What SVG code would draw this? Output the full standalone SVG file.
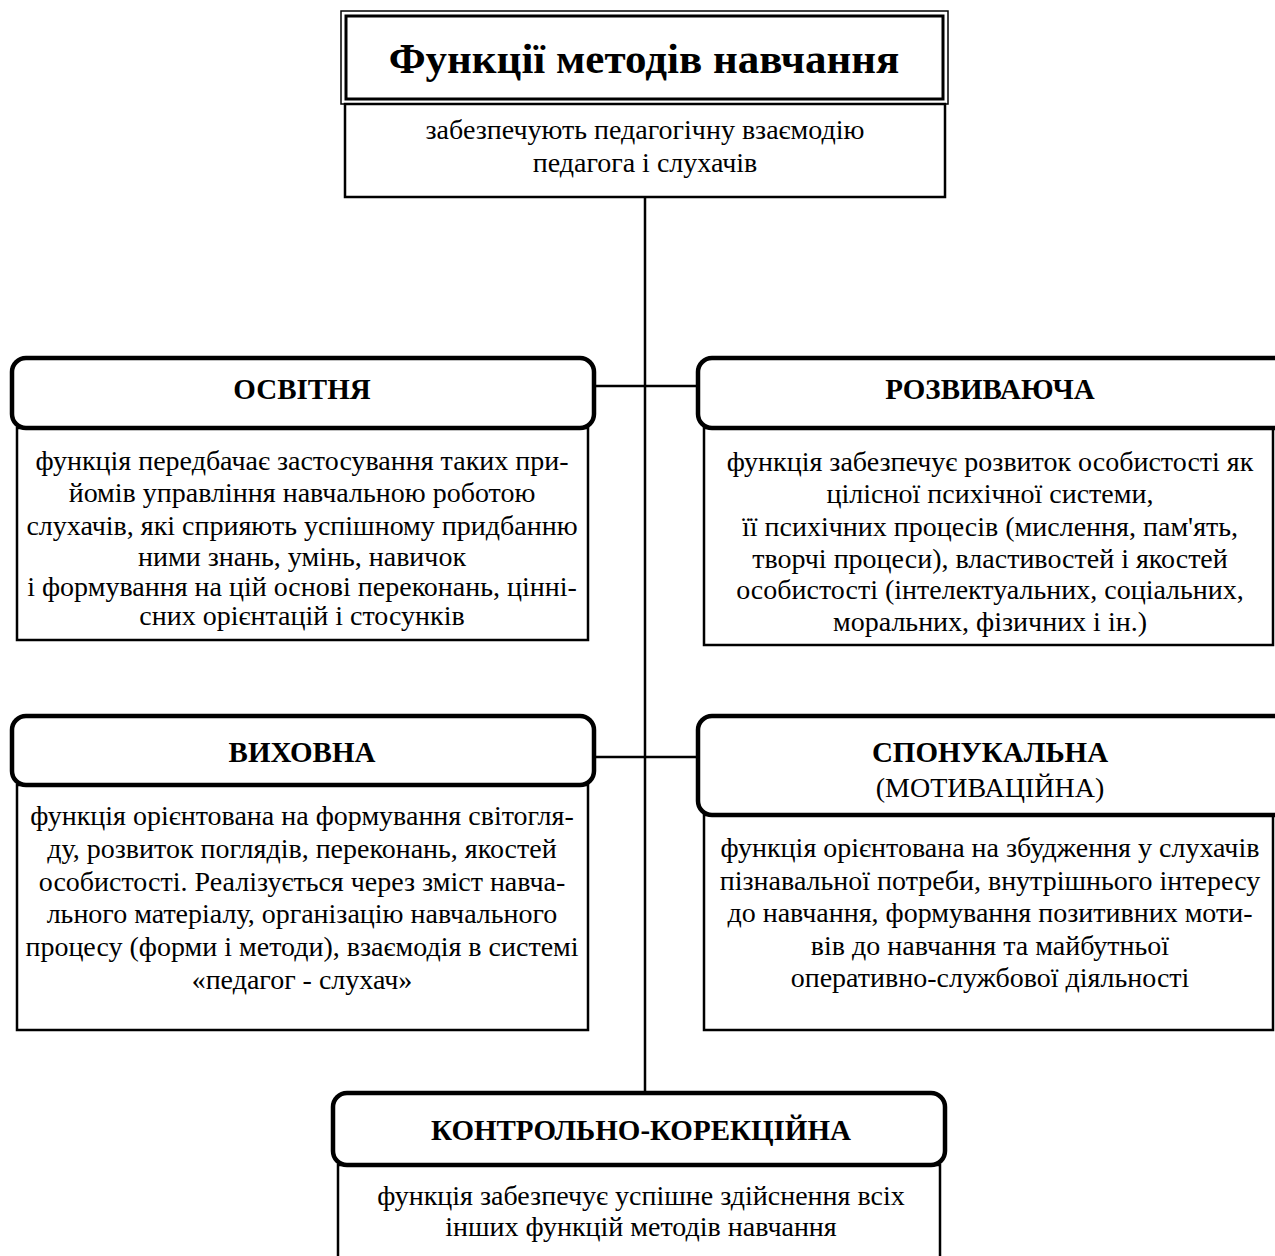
<svg xmlns="http://www.w3.org/2000/svg" width="1275" height="1256" viewBox="0 0 1275 1256">
<style>
.hdr{fill:#fff;stroke:#000;stroke-width:4.5}
.body{fill:#fff;stroke:#000;stroke-width:2.5}
.t{font-family:"Liberation Serif","Times New Roman",serif;font-size:28px;fill:#000;text-anchor:middle}
.h{font-family:"Liberation Serif","Times New Roman",serif;font-size:29px;font-weight:bold;fill:#000;text-anchor:middle}
.conn{stroke:#000;stroke-width:2.5;fill:none}
</style>
<rect width="1275" height="1256" fill="#fff"/>
<g id="connectors">
<line class="conn" x1="645" y1="197" x2="645" y2="1093"/>
<line class="conn" x1="594" y1="386" x2="698" y2="386"/>
<line class="conn" x1="594" y1="757" x2="698" y2="757"/>
</g>
<g id="title">
<rect x="341" y="11" width="607" height="93" fill="#fff" stroke="#000" stroke-width="1.5"/>
<rect x="346" y="16" width="597" height="83" fill="none" stroke="#000" stroke-width="3"/>
<text x="644" y="73" font-family="Liberation Serif, Times New Roman, serif" font-size="43" font-weight="bold" text-anchor="middle">Функції методів навчання</text>
<rect class="body" x="345" y="104" width="600" height="93"/>
<text class="t" x="645" y="139">забезпечують педагогічну взаємодію</text>
<text class="t" x="645" y="172">педагога і слухачів</text>
</g>
<g id="osvitnia">
<rect class="body" x="17" y="428" width="571" height="212"/>
<rect class="hdr" x="12" y="358" width="582" height="70" rx="14"/>
<text class="h" x="302" y="399">ОСВІТНЯ</text>
<text class="t" x="302" y="470">функція передбачає застосування таких при-</text>
<text class="t" x="302" y="502">йомів управління навчальною роботою</text>
<text class="t" x="302" y="535">слухачів, які сприяють успішному придбанню</text>
<text class="t" x="302" y="566">ними знань, умінь, навичок</text>
<text class="t" x="302" y="596">і формування на цій основі переконань, цінні-</text>
<text class="t" x="302" y="625">сних орієнтацій і стосунків</text>
</g>
<g id="rozvyvaiucha">
<rect class="body" x="704" y="428" width="569" height="217"/>
<rect class="hdr" x="698" y="358" width="600" height="70" rx="14"/>
<text class="h" x="990" y="399">РОЗВИВАЮЧА</text>
<text class="t" x="990" y="471">функція забезпечує розвиток особистості як</text>
<text class="t" x="990" y="503">цілісної психічної системи,</text>
<text class="t" x="990" y="536">її психічних процесів (мислення, пам'ять,</text>
<text class="t" x="990" y="568">творчі процеси), властивостей і якостей</text>
<text class="t" x="990" y="599">особистості (інтелектуальних, соціальних,</text>
<text class="t" x="990" y="631">моральних, фізичних і ін.)</text>
</g>
<g id="vykhovna">
<rect class="body" x="17" y="785" width="571" height="245"/>
<rect class="hdr" x="12" y="716" width="582" height="69" rx="14"/>
<text class="h" x="302" y="762">ВИХОВНА</text>
<text class="t" x="302" y="825">функція орієнтована на формування світогля-</text>
<text class="t" x="302" y="858">ду, розвиток поглядів, переконань, якостей</text>
<text class="t" x="302" y="891">особистості. Реалізується через зміст навча-</text>
<text class="t" x="302" y="923">льного матеріалу, організацію навчального</text>
<text class="t" x="302" y="956">процесу (форми і методи), взаємодія в системі</text>
<text class="t" x="302" y="989">«педагог - слухач»</text>
</g>
<g id="sponukalna">
<rect class="body" x="704" y="815" width="569" height="215"/>
<rect class="hdr" x="698" y="716" width="600" height="99" rx="14"/>
<text class="h" x="990" y="762">СПОНУКАЛЬНА</text>
<text class="t" x="990" y="797">(МОТИВАЦІЙНА)</text>
<text class="t" x="990" y="857">функція орієнтована на збудження у слухачів</text>
<text class="t" x="990" y="890">пізнавальної потреби, внутрішнього інтересу</text>
<text class="t" x="990" y="922">до навчання, формування позитивних моти-</text>
<text class="t" x="990" y="955">вів до навчання та майбутньої</text>
<text class="t" x="990" y="987">оперативно-службової діяльності</text>
</g>
<g id="kontrolno">
<rect class="body" x="338" y="1165" width="602" height="110"/>
<rect class="hdr" x="333" y="1093" width="612" height="72" rx="14"/>
<text class="h" x="641" y="1140">КОНТРОЛЬНО-КОРЕКЦІЙНА</text>
<text class="t" x="641" y="1205">функція забезпечує успішне здійснення всіх</text>
<text class="t" x="641" y="1236">інших функцій методів навчання</text>
</g>
</svg>
